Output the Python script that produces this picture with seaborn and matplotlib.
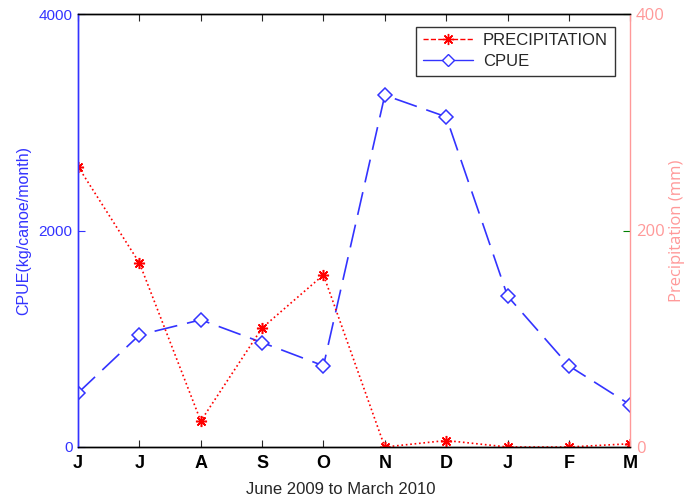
"""CPUE and precipitation, June 2009 to March 2010."""

import numpy as np
import pandas as pd
import seaborn as sns
import matplotlib
matplotlib.use('Agg')
import matplotlib.pyplot as plt
from matplotlib.lines import Line2D

###################################################################################################
###################################################################################################

months = ['J', 'J', 'A', 'S', 'O', 'N', 'D', 'J', 'F', 'M']
cpue = [500, 1035, 1175, 965, 750, 3250, 3050, 1395, 750, 390]
precip = [259, 170, 24, 110, 159, 0, 6, 0, 0, 3]

left_ticks = [0, 2000, 4000]
right_ticks = [0, 200, 400]

sns.set_style('white')
plt.rcParams['font.family'] = ['Liberation Sans', 'DejaVu Sans']

df = pd.DataFrame({'month': np.arange(len(months)), 'cpue': cpue, 'precip': precip})

fig = plt.figure(figsize=[6.91, 5], dpi=100)
ax = fig.add_axes([0.113, 0.106, 0.799, 0.866])
ax2 = ax.twinx()

blue = '#3333ff'
salmon = '#ff9999'
star = (8, 2, 0)

sns.lineplot(data=df, x='month', y='cpue', ax=ax, color=blue, lw=1.2,
             marker='D', markersize=7, markerfacecolor='white', markeredgecolor=blue,
             markeredgewidth=1.1, dashes=False)
ax.lines[-1].set_dashes([14, 6])

sns.lineplot(data=df, x='month', y='precip', ax=ax2, color='red', lw=1.2,
             marker=star, markersize=8, markeredgecolor='red', markeredgewidth=1.1,
             dashes=False)
ax2.lines[-1].set_linestyle(':')

ax.set_xlim(0, len(months) - 1)
ax.set_ylim(0, 4000)
ax2.set_ylim(0, 400)
ax.set_xticks(np.arange(len(months)))
ax.set_xticklabels(months, fontsize=13, fontweight='bold', color='black')
ax.set_yticks(left_ticks)
ax.set_yticklabels(left_ticks, color=blue, fontsize=11)
ax2.set_yticks(right_ticks)
ax2.set_yticklabels(right_ticks, color=salmon, fontsize=12, family='Open Sans')

ax.set_xlabel('June 2009 to March 2010', fontsize=12)
ax.xaxis.set_label_coords(0.476, -0.08)
ax.set_ylabel('CPUE(kg/canoe/month)', color=blue, fontsize=11.5, labelpad=5)
ax2.set_ylabel('Precipitation (mm)', color=salmon, fontsize=12, family='Open Sans', labelpad=3)

# Ticks inside, like a MATLAB plotyy
ax.tick_params(axis='x', direction='in', length=5, top=True, bottom=True, pad=6)
ax.tick_params(axis='y', direction='in', length=5, colors=blue, pad=4)
ax2.tick_params(axis='y', direction='in', length=5, colors='green', pad=4)
for lab in ax.get_yticklabels():
    lab.set_color(blue)
for lab in ax2.get_yticklabels():
    lab.set_color(salmon)
for lab in ax.get_xticklabels():
    lab.set_color('black')

for a in [ax, ax2]:
    for sp in a.spines.values():
        sp.set_visible(True)
        sp.set_linewidth(1)
        sp.set_color('black')
ax.spines['left'].set_color(blue)
ax2.spines['left'].set_color(blue)
ax2.spines['right'].set_color(salmon)
ax.spines['right'].set_visible(False)

handles = [Line2D([], [], color='red', ls='--', marker=star, markersize=8, lw=1),
           Line2D([], [], color=blue, ls='-', marker='D', markersize=6,
                  markerfacecolor='white', lw=1)]
leg = ax2.legend(handles, ['PRECIPITATION', 'CPUE'], loc='upper right',
                 bbox_to_anchor=(0.987, 0.99), fontsize=12, frameon=True, fancybox=False,
                 borderpad=0.4, handlelength=3.0, handletextpad=0.6, labelspacing=0.35)
leg.get_frame().set_edgecolor('black')
leg.get_frame().set_linewidth(1)

plt.savefig('out.png', dpi=100)
